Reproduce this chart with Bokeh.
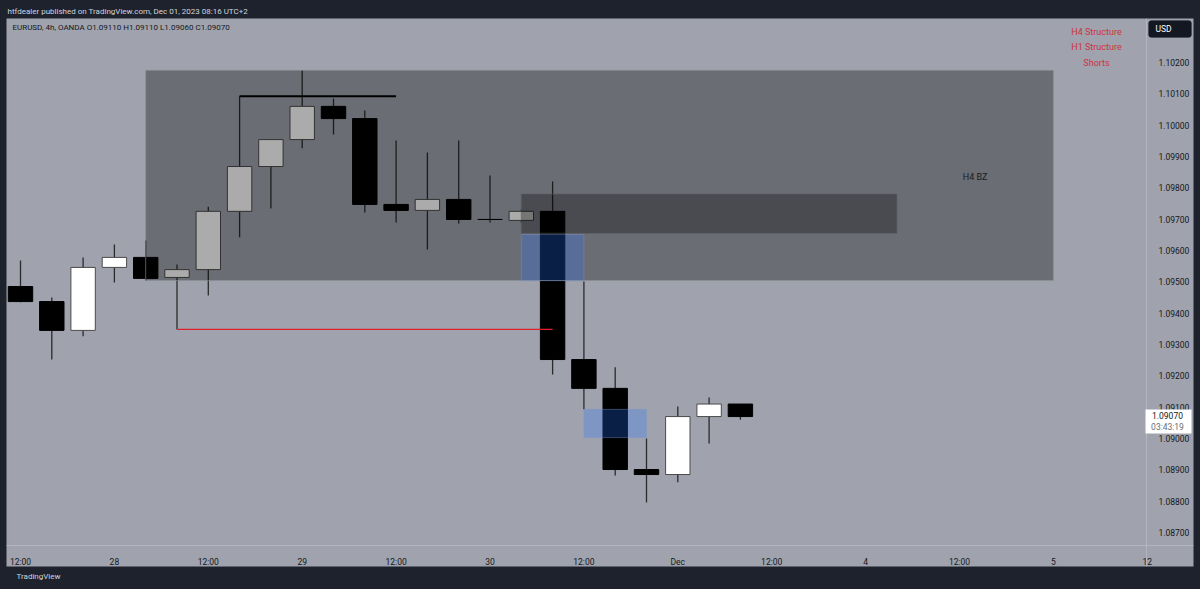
from bokeh.plotting import figure
from bokeh.models import (FixedTicker, PrintfTickFormatter, BoxAnnotation, Label, Title,
                          Range1d, ColumnDataSource, GlobalInlineStyleSheet)
from bokeh.core.properties import value
from bokeh.embed import file_html
from bokeh.resources import INLINE

# ---------------- data (EURUSD, 4h, OANDA) ----------------
bar_index = list(range(24))
opens  = [1.09485, 1.09437, 1.09345, 1.09546, 1.09578, 1.09514, 1.09539, 1.09725,
          1.09868, 1.09954, 1.10060, 1.10021, 1.09747, 1.09728, 1.09763, 1.09699,
          1.09696, 1.09725, 1.09252, 1.09160, 1.08901, 1.08885, 1.09070, 1.09110]
highs  = [1.09568, 1.09450, 1.09578, 1.09619, 1.09632, 1.09555, 1.09740, 1.10092,
          1.09954, 1.10175, 1.10085, 1.10047, 1.09951, 1.09913, 1.09951, 1.09839,
          1.09730, 1.09820, 1.09501, 1.09227, 1.09000, 1.09102, 1.09131, 1.09110]
lows   = [1.09435, 1.09252, 1.09326, 1.09498, 1.09504, 1.09348, 1.09456, 1.09642,
          1.09734, 1.09926, 1.09970, 1.09721, 1.09689, 1.09603, 1.09686, 1.09689,
          1.09690, 1.09204, 1.09093, 1.08882, 1.08796, 1.08860, 1.08984, 1.09060]
closes = [1.09437, 1.09345, 1.09546, 1.09578, 1.09511, 1.09539, 1.09725, 1.09868,
          1.09954, 1.10060, 1.10021, 1.09747, 1.09728, 1.09763, 1.09699, 1.09699,
          1.09725, 1.09252, 1.09160, 1.08901, 1.08885, 1.09070, 1.09110, 1.09070]

time_ticks  = [0, 3, 6, 9, 12, 15, 18, 21, 24, 27, 30, 33, 36]
time_labels = ["12:00", "28", "12:00", "29", "12:00", "30", "12:00", "Dec",
               "12:00", "4", "12:00", "5", "12"]
price_ticks = [1.08700, 1.08800, 1.08900, 1.09000, 1.09100, 1.09200, 1.09300, 1.09400,
               1.09500, 1.09600, 1.09700, 1.09800, 1.09900, 1.10000, 1.10100, 1.10200]

# zones: (start bar, end bar, top price, bottom price)
h4_zone     = (4.0, 33.0, 1.10175, 1.09504)
h1_zone     = (16.0, 28.0, 1.09780, 1.09655)
fvg_zones_l = [16.0, 18.0]
fvg_zones_r = [18.0, 20.0]
fvg_zones_t = [1.09651, 1.09093]
fvg_zones_b = [1.09504, 1.09003]
high_line   = (7.0, 12.0, 1.10092)
low_line    = (5.0, 17.0, 1.09348)

header_text = "htfdealer published on TradingView.com, Dec 01, 2023 08:16 UTC+2"
info_text   = "EURUSD, 4h, OANDA  O1.09110  H1.09110  L1.09060  C1.09070"
legend_text = ["H4 Structure", "H1 Structure", "Shorts"]
countdown   = "03:43:19"

# ---------------- styling ----------------
BG = "#a0a3ad"
DARK = "#1e222d"
FONT = "Roboto"

W, H = 1200, 589
FL, FR, FT, FB = 6, 1193, 18, 566          # frame edges in page pixels
p = figure(width=W, height=H, output_backend="svg", toolbar_location=None,
           x_range=Range1d(-0.4473, 37.476), y_range=Range1d(1.0859149, 1.1034043),
           y_axis_location="right", min_border_left=FL, min_border_right=W - FR,
           min_border_top=FT, min_border_bottom=H - FB)
p.stylesheets = [GlobalInlineStyleSheet(css="body { background-color: #1e222d; }")]
p.background_fill_color = BG
p.border_fill_color = DARK
p.outline_line_color = None
p.grid.visible = False

# header / footer as titles in the dark border
p.title.text = header_text
p.title.text_font = FONT
p.title.text_font_size = "8px"
p.title.text_font_style = "normal"
p.title.text_color = "#d1d4dc"
p.title.align = "left"
p.title.offset = 1
p.title.standoff = 6
footer = Title(text="TradingView", text_font=FONT, text_font_size="8px",
               text_font_style="normal", text_color="#d1d4dc", align="left",
               offset=10, standoff=7)
p.add_layout(footer, "below")

# axes drawn inside the frame, like TradingView's scales
xa = p.xaxis[0]
xa.fixed_location = 1.0865852
xa.ticker = FixedTicker(ticks=time_ticks)
xa.major_label_overrides = {t: l for t, l in zip(time_ticks, time_labels)}
ya = p.yaxis[0]
ya.fixed_location = 35.974
ya.ticker = FixedTicker(ticks=price_ticks)
ya.formatter = PrintfTickFormatter(format="%.5f")
for ax in (xa, ya):
    ax.major_tick_line_color = None
    ax.minor_tick_line_color = None
    ax.axis_line_color = "#b3b6be"
    ax.major_label_text_font = FONT
    ax.major_label_text_font_size = "8.5px"
    ax.major_label_text_color = "#131722"
    ax.major_label_standoff = 6

# candles
bull = [c > o for o, c in zip(opens, closes)]
src = ColumnDataSource(dict(
    x=bar_index, o=opens, h=highs, l=lows, c=closes,
    top=[max(o, c) for o, c in zip(opens, closes)],
    bot=[min(o, c) for o, c in zip(opens, closes)],
    fill=["#ffffff" if b else "#000000" for b in bull],
    line=["#4a4a4a" if b else "#000000" for b in bull],
))
p.segment(x0="x", y0="l", x1="x", y1="h", source=src, line_color="#2b2b2b", line_width=1.3)
p.vbar(x="x", width=0.78, top="top", bottom="bot", source=src,
       fill_color="fill", line_color="line", line_width=1)

# zones
p.quad(left=[h4_zone[0]], right=[h4_zone[1]], top=[h4_zone[2]], bottom=[h4_zone[3]],
       fill_color="#000000", fill_alpha=0.33, line_color="#8e9199", line_alpha=0.6, line_width=1)
p.quad(left=[h1_zone[0]], right=[h1_zone[1]], top=[h1_zone[2]], bottom=[h1_zone[3]],
       fill_color="#000000", fill_alpha=0.31, line_color="#5a5b60", line_alpha=0.6, line_width=1)
p.quad(left=fvg_zones_l, right=fvg_zones_r, top=fvg_zones_t, bottom=fvg_zones_b,
       fill_color="#2673ff", fill_alpha=0.27, line_color="#7d97c8", line_alpha=0.4, line_width=1)

# structure lines
p.segment(x0=[high_line[0]], y0=[high_line[2]], x1=[high_line[1]], y1=[high_line[2]],
          line_color="#000000", line_width=2)
p.segment(x0=[low_line[0]], y0=[low_line[2]], x1=[low_line[1]], y1=[low_line[2]],
          line_color="#e0202c", line_width=1.2)

p.text(x=[30.5], y=[1.09836], text=["H4 BZ"], text_font=value(FONT), text_font_size="9px",
       text_color="#1a1a1a", text_align="center", text_baseline="middle")

# ---------- overlays positioned in frame-relative screen pixels ----------
def sx(page_x):
    return page_x - FL

def sy(page_y):
    return FB - page_y

def box(l, r, t, b, fill, line=None, radius=0):
    p.add_layout(BoxAnnotation(left=sx(l), right=sx(r), top=sy(t), bottom=sy(b),
                               left_units="screen", right_units="screen",
                               top_units="screen", bottom_units="screen",
                               fill_color=fill, fill_alpha=1, line_color=line,
                               border_radius=radius, level="overlay"))

def lab(x, y, text, color, size, align="left", style="normal"):
    p.add_layout(Label(x=sx(x), y=sy(y), x_units="screen", y_units="screen", text=text,
                       text_font=FONT, text_font_size=size, text_color=color,
                       text_align=align, text_baseline="middle", text_font_style=style,
                       level="overlay"))

lab(12, 27, info_text, "#131722", "8px")
for i, t in enumerate(legend_text):
    lab(1096, 31 + i * 15.5, t, "#cc333d", "9px", align="center")

# USD badge
box(1148, 1191, 20, 37, "#131722", line="#2a2e39", radius=3)
lab(1155, 28.5, "USD", "#ffffff", "8.5px")

# last price tag
box(1145, 1191, 409, 433, "#ffffff")
lab(1167, 415, f"{closes[-1]:.5f}", "#131722", "8.5px", align="center")
lab(1167, 426, countdown, "#6a6d78", "8.5px", align="center")

open("out.html", "w").write(file_html(p, INLINE))
